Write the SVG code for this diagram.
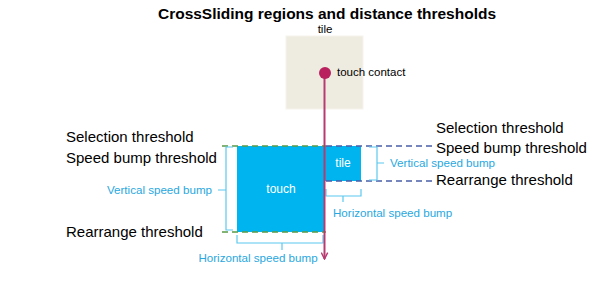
<svg xmlns="http://www.w3.org/2000/svg" width="592" height="282" viewBox="0 0 592 282">
<defs>
<style>
text{font-family:"Liberation Sans","DejaVu Sans",sans-serif;}
.title{font-size:15px;font-weight:bold;fill:#000;}
.lbl{font-size:15px;fill:#000;}
.sm{font-size:11.5px;fill:#000;}
.bump{font-size:11.6px;fill:#29A8E0;}
.white{font-size:12px;fill:#fff;}
.blue{fill:#00B4F0;}
.brace{fill:none;stroke:#5BC8F0;stroke-width:1.2;}
.green{stroke:#5A9A48;stroke-width:1.5;stroke-dasharray:6 4;fill:none;}
.navy{stroke:#4B5EA8;stroke-width:1.5;stroke-dasharray:6 4;fill:none;}
</style>
<marker id="arr" viewBox="0 0 10 10" refX="9" refY="5" markerWidth="8" markerHeight="8" orient="auto" markerUnits="userSpaceOnUse">
<path d="M1,1 L9,5 L1,9" fill="none" stroke="#B83A70" stroke-width="1.8"/>
</marker>
</defs>
<rect width="592" height="282" fill="#fff"/>
<text class="title" x="327" y="19" text-anchor="middle" textLength="338" lengthAdjust="spacingAndGlyphs">CrossSliding regions and distance thresholds</text>

<g id="tile-area">
<rect x="286" y="36" width="77" height="73" fill="#EEEBE0" stroke="#F6F4EC" stroke-width="1"/>
<text class="sm" x="325" y="33" text-anchor="middle">tile</text>
</g>

<g id="touch">
<rect class="blue" x="237" y="146" width="87" height="86"/>
<text class="white" x="281" y="193" text-anchor="middle">touch</text>
</g>

<g id="tile">
<rect class="blue" x="325" y="146" width="36" height="35"/>
<text class="white" x="343" y="167" text-anchor="middle">tile</text>
</g>

<g id="thresholds">
<line class="green" x1="222" y1="146" x2="326" y2="146"/>
<line class="green" x1="222" y1="232" x2="326" y2="232"/>
<line class="navy" x1="326" y1="146" x2="432" y2="146"/>
<line class="navy" x1="326" y1="181" x2="432" y2="181"/>
<text class="lbl" x="66" y="142">Selection threshold</text>
<text class="lbl" x="66" y="163">Speed bump threshold</text>
<text class="lbl" x="66" y="237">Rearrange threshold</text>
<text class="lbl" x="436" y="133">Selection threshold</text>
<text class="lbl" x="436" y="153">Speed bump threshold</text>
<text class="lbl" x="436" y="185">Rearrange threshold</text>
</g>

<g id="bumps">
<path class="brace" d="M233,147 H226 V230 H233 M226,190 H218"/>
<text class="bump" x="212" y="194" text-anchor="end">Vertical speed bump</text>
<path class="brace" d="M237,235 V243 H323 V235 M282,243 V250"/>
<text class="bump" x="258" y="262" text-anchor="middle">Horizontal speed bump</text>
<path class="brace" d="M369,147 H377 V180 H369 M377,163 H384"/>
<text class="bump" x="390" y="167">Vertical speed bump</text>
<path class="brace" d="M326,189 V196 H361 V189 M343,196 V202"/>
<text class="bump" x="333" y="217">Horizontal speed bump</text>
</g>

<g id="connectors">
<line x1="324.5" y1="73" x2="324.5" y2="259" stroke="#B83A70" stroke-width="2" marker-end="url(#arr)"/>
</g>

<g id="touch-contact">
<circle cx="325" cy="73" r="6" fill="#B8215E"/>
<text class="sm" x="337" y="76">touch contact</text>
</g>
</svg>
